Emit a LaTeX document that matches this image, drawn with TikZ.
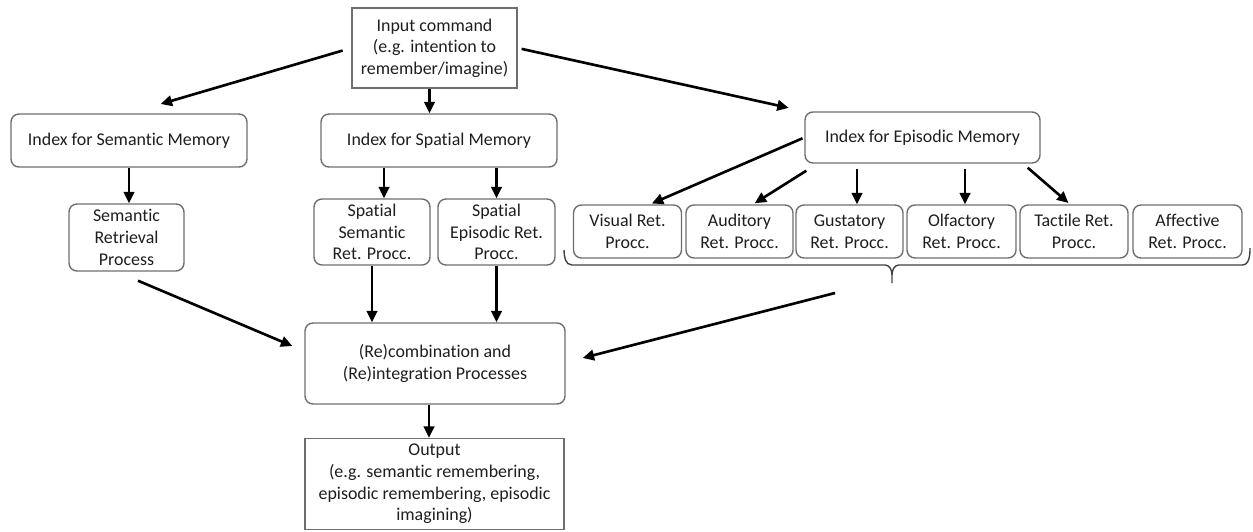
\documentclass[tikz,border=0pt]{standalone}
\usepackage{fontspec}
\setmainfont{Carlito}[Ligatures=NoCommon]
\usetikzlibrary{arrows.meta}

\definecolor{boxgray}{HTML}{6E6E6E}
\definecolor{textgray}{HTML}{1E1E1E}

\tikzset{
  box/.style={draw=boxgray, line width=0.8pt, rounded corners=4.5pt, align=center,
    inner sep=0pt, text=textgray, font=\fontsize{10.2}{12.3}\selectfont},
  sqbox/.style={box, rounded corners=0pt},
  arr/.style={-{Triangle[length=6.5pt,width=6pt]}, line width=1.5pt},
}

\begin{document}
\begin{tikzpicture}[x=0.02cm,y=-0.02cm]

    \useasboundingbox (0,0) rectangle (1253,531);

    % Input command (top)
    \node[sqbox, minimum width=3.3cm, minimum height=1.6cm] (input) at (434.5,48)
      {Input command\\(e.g. intention to\\remember/imagine)};

    % the three indices
    \node[box, minimum width=4.72cm, minimum height=1.06cm] (semidx) at (129,140.5)
      {Index for Semantic Memory};
    \node[box, minimum width=4.72cm, minimum height=1.06cm] (spaidx) at (439,140.5)
      {Index for Spatial Memory};
    \node[box, minimum width=4.7cm, minimum height=1.02cm] (epiidx) at (922.5,137.5)
      {Index for Episodic Memory};

    % semantic and spatial retrieval
    \node[box, minimum width=2.3cm, minimum height=1.34cm] (semret) at (126.5,237.5)
      {Semantic\\Retrieval\\Process};
    \node[box, minimum width=2.32cm, minimum height=1.32cm] (spasem) at (372,232)
      {Spatial\\Semantic\\Ret. Procc.};
    \node[box, minimum width=2.34cm, minimum height=1.32cm] (spaepi) at (496.5,232)
      {Spatial\\Episodic Ret.\\Procc.};

    % episodic retrieval processes
    \node[box, minimum width=2.16cm, minimum height=1.06cm] (visual) at (627.5,231.5)
      {Visual Ret.\\Procc.};
    \node[box, minimum width=2.14cm, minimum height=1.06cm] (auditory) at (739.5,231.5)
      {Auditory\\Ret. Procc.};
    \node[box, minimum width=2.14cm, minimum height=1.06cm] (gustatory) at (849.5,231.5)
      {Gustatory\\Ret. Procc.};
    \node[box, minimum width=2.18cm, minimum height=1.06cm] (olfactory) at (961.5,231.5)
      {Olfactory\\Ret. Procc.};
    \node[box, minimum width=2.16cm, minimum height=1.06cm] (tactile) at (1074,231.5)
      {Tactile Ret.\\Procc.};
    \node[box, minimum width=2.18cm, minimum height=1.06cm] (affective) at (1187.5,231.5)
      {Affective\\Ret. Procc.};

    % brace under the episodic processes
    \draw[boxgray!60!black, line width=0.8pt]
      (564,250) to[out=-90,in=180] (572,265) -- (885,265)
      to[out=0,in=90] (892,275) -- (892,283)
      (892,275) to[out=90,in=180] (899,265) -- (1242,265)
      to[out=0,in=-90] (1250,248);
    \coordinate (bracetip) at (892,283);

    % (Re)combination and output
    \node[box, minimum width=5.2cm, minimum height=1.62cm] (recomb) at (435,363.5)
      {(Re)combination and\\(Re)integration Processes};
    \node[sqbox, minimum width=5.18cm, minimum height=1.82cm] (output) at (434.5,484)
      {Output\\(e.g. semantic remembering,\\episodic remembering, episodic\\imagining)};

    % arrows from the input command
    \draw[arr, shorten <=0.18cm, shorten >=0.66cm] (input.west) -- (semidx.north);
    \draw[arr] ([xshift=-0.1cm]input.south) -- ([xshift=-0.1cm]input.south |- spaidx.north);
    \draw[arr, shorten <=0.08cm, shorten >=0.32cm] (input.east) -- (epiidx.north west);

    % arrows from the indices
    \draw[arr] (semidx.south) -- (semidx.south |- semret.north);
    \draw[arr] ([xshift=0.24cm]spasem.north |- spaidx.south) -- ([xshift=0.24cm]spasem.north);
    \draw[arr] (spaepi.north |- spaidx.south) -- (spaepi.north);

    \draw[arr, shorten <=0.04cm, shorten >=0.04cm] (epiidx.west) -- ([xshift=0.45cm]visual.north);
    \draw[arr, shorten >=0.04cm] ([xshift=0.04cm,yshift=-0.14cm]epiidx.south west) -- ([xshift=0.27cm]auditory.north);
    \draw[arr, shorten <=0.1cm] ([xshift=0.15cm]gustatory.north |- epiidx.south) -- ([xshift=0.15cm]gustatory.north);
    \draw[arr, shorten <=0.1cm] ([xshift=0.07cm]olfactory.north |- epiidx.south) -- ([xshift=0.07cm]olfactory.north);
    \draw[arr, shorten >=0.04cm] ([xshift=-0.26cm,yshift=-0.08cm]epiidx.south east) -- ([xshift=-0.08cm]tactile.north);

    % arrows into the (re)combination
    \draw[arr] (spasem.south) -- (spasem.south |- recomb.north);
    \draw[arr] (spaepi.south) -- (spaepi.south |- recomb.north);
    \draw[arr] ([xshift=0.23cm,yshift=-0.18cm]semret.south) -- ([xshift=-0.24cm,yshift=0.35cm]recomb.west);
    \draw[arr] ([xshift=-1.14cm,yshift=-0.2cm]bracetip) -- ([xshift=0.34cm,yshift=0.11cm]recomb.east);

    % output
    \draw[arr] ([xshift=-0.12cm]recomb.south) -- ([xshift=-0.12cm]recomb.south |- output.north);

  \end{tikzpicture}
\end{document}
